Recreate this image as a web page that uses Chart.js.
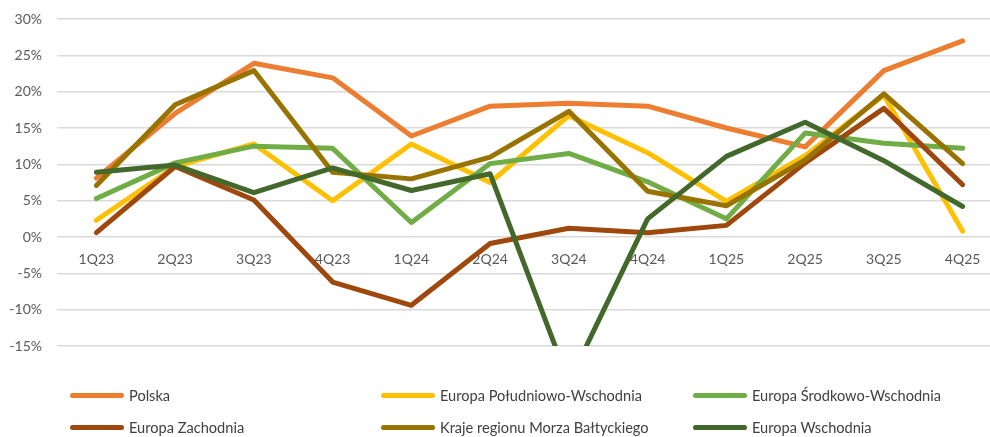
<!DOCTYPE html>
<html>
<head>
<meta charset="utf-8">
<script src="https://cdn.jsdelivr.net/npm/chart.js@4"></script>
<style>
  html, body { margin: 0; padding: 0; background: #fff; overflow: hidden; }
  body { width: 990px; height: 437px; position: relative; font-family: Lato, sans-serif; }
  #wrap { position: absolute; left: 0; top: 0; width: 1005px; height: 360px; }
  .legend { position: absolute; left: 0; top: 0; width: 990px; height: 437px; pointer-events: none; }
  .item { position: absolute; display: flex; align-items: center; font-size: 14.6px; color: #404040; white-space: nowrap; }
  .item span.sw { display: inline-block; width: 54px; height: 5px; border-radius: 3px; margin-right: 5px; }
</style>
</head>
<body>
<div id="wrap"><canvas id="lineChart"></canvas></div>
<div class="legend" id="legend"></div>
<script>
// kwartały
const quarters = ['1Q23', '2Q23', '3Q23', '4Q23', '1Q24', '2Q24', '3Q24', '4Q24', '1Q25', '2Q25', '3Q25', '4Q25'];

// serie danych (%)
const polska      = [8.1, 17.0, 23.9, 21.9, 13.9, 18.0, 18.4, 18.0, 15.0, 12.4, 22.9, 27.0];
const poludWsch   = [2.3, 9.7, 12.8, 5.0, 12.8, 7.5, 16.7, 11.6, 4.9, 11.2, 19.5, 0.8];
const srodWsch    = [5.3, 10.2, 12.5, 12.2, 2.0, 10.1, 11.5, 7.6, 2.5, 14.3, 12.9, 12.2];
const zachodnia   = [0.6, 9.7, 5.1, -6.2, -9.4, -0.9, 1.2, 0.6, 1.6, 10.2, 17.7, 7.2];
const baltyk      = [7.1, 18.2, 22.9, 8.9, 8.0, 11.0, 17.3, 6.3, 4.3, 10.6, 19.7, 10.1];
const wschodnia   = [8.9, 9.9, 6.1, 9.5, 6.4, 8.7, -20.0, 2.5, 11.1, 15.8, 10.5, 4.2];

// oś Y
const yTicks = [-15, -10, -5, 0, 5, 10, 15, 20, 25, 30];

const seriesNames = ['Polska', 'Europa Południowo-Wschodnia', 'Europa Środkowo-Wschodnia',
                     'Europa Zachodnia', 'Kraje regionu Morza Bałtyckiego', 'Europa Wschodnia'];
const seriesData = [polska, poludWsch, srodWsch, zachodnia, baltyk, wschodnia];
const seriesColors = ['#ED7D31', '#FFC000', '#70AD47', '#9E480E', '#997300', '#43682B'];

// legenda (HTML)
const legendPos = [
    [70, 395], [381, 395], [693, 395],
    [70, 427], [381, 427], [693, 427]
];
const legendEl = document.getElementById('legend');
seriesNames.forEach((name, i) => {
    const div = document.createElement('div');
    div.className = 'item';
    div.style.left = legendPos[i][0] + 'px';
    div.style.top = (legendPos[i][1] - 9) + 'px';
    div.style.height = '18px';
    div.innerHTML = '<span class="sw" style="background:' + seriesColors[i] + '"></span>' + name;
    legendEl.appendChild(div);
});

const ctx = document.getElementById('lineChart').getContext('2d');
const lineChart = new Chart(ctx, {
    type: 'line',
    data: {
        labels: quarters,
        datasets: seriesData.map((d, i) => ({
            label: seriesNames[i],
            data: d,
            borderColor: seriesColors[i],
            backgroundColor: seriesColors[i],
            borderWidth: 5,
            pointRadius: 0,
            tension: 0,
            borderCapStyle: 'round',
            borderJoinStyle: 'round',
            order: seriesData.length - i
        }))
    },
    options: {
        responsive: true,
        maintainAspectRatio: false,
        animation: false,
        events: [],
        layout: { padding: { top: 19, bottom: 14, right: 3, left: 0 } },
        plugins: {
            legend: { display: false },
            tooltip: { enabled: false }
        },
        scales: {
            x: {
                position: { y: 0 },
                offset: true,
                // etykiety osi X leżą wewnątrz wykresu - nie rezerwuj miejsca
                afterFit: axis => {
                    axis.height = 0;
                    axis.paddingTop = 0;
                    axis.paddingBottom = 0;
                    axis.paddingLeft = 0;
                    axis.paddingRight = 0;
                },
                grid: { display: false, drawTicks: false },
                border: { display: false },
                ticks: {
                    color: '#595959',
                    padding: 14,
                    maxRotation: 0,
                    font: { family: 'Lato', size: 14 }
                }
            },
            y: {
                min: -15,
                max: 30,
                afterBuildTicks: axis => { axis.ticks = yTicks.map(v => ({ value: v })); },
                afterFit: axis => {
                    axis.width = 57;
                    axis.paddingTop = 0;
                    axis.paddingBottom = 0;
                },
                grid: { color: '#D9D9D9', lineWidth: 1.5, drawTicks: false },
                border: { display: false },
                ticks: {
                    color: '#595959',
                    padding: 15,
                    font: { family: 'Lato', size: 14 },
                    callback: v => v + '%'
                }
            }
        }
    }
});
</script>
</body>
</html>
